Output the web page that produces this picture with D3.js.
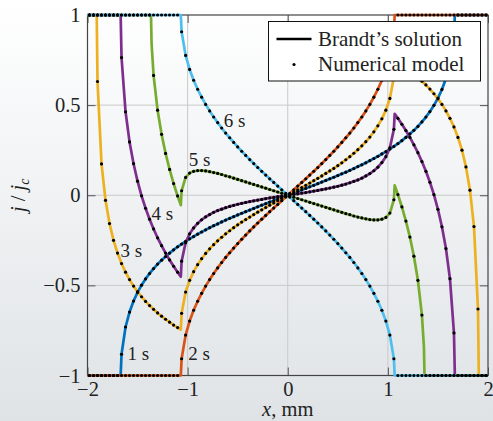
<!DOCTYPE html>
<html>
<head>
<meta charset="utf-8">
<script src="https://cdn.jsdelivr.net/npm/d3@7"></script>
<style>
  body { margin: 0; }
  svg { display: block; font-family: "Liberation Serif", serif; }
</style>
</head>
<body>
<svg width="493" height="421"></svg>
<script>
// mesh positions of the numerical model (mm)
const xs = [-1.98,-1.94,-1.90,-1.86,-1.82,-1.78,-1.74,-1.70,-1.66,-1.62,-1.58,-1.54,-1.50,-1.46,-1.42,-1.38,-1.34,-1.30,-1.26,-1.22,
  -1.18,-1.14,-1.10,-1.06,-1.02,-0.98,-0.94,-0.90,-0.86,-0.82,-0.78,-0.74,-0.70,-0.66,-0.62,-0.58,-0.54,-0.50,-0.46,-0.42,
  -0.38,-0.34,-0.30,-0.26,-0.22,-0.18,-0.14,-0.10,-0.06,-0.02,0.02,0.06,0.10,0.14,0.18,0.22,0.26,0.30,0.34,0.38,
  0.42,0.46,0.50,0.54,0.58,0.62,0.66,0.70,0.74,0.78,0.82,0.86,0.90,0.94,0.98,1.02,1.06,1.10,1.14,1.18,
  1.22,1.26,1.30,1.34,1.38,1.42,1.46,1.50,1.54,1.58,1.62,1.66,1.70,1.74,1.78,1.82,1.86,1.90,1.94,1.98];

// j/jc at each mesh position, one array per time
const j1 = [-1,-1,-1,-1,-1,-1,-1,-1,-0.882,-0.731,-0.648,-0.587,-0.539,-0.499,-0.464,-0.434,-0.407,-0.382,-0.360,-0.340,
  -0.321,-0.303,-0.286,-0.271,-0.256,-0.242,-0.229,-0.216,-0.204,-0.192,-0.180,-0.169,-0.159,-0.148,-0.138,-0.128,-0.119,-0.109,-0.100,-0.091,
  -0.082,-0.073,-0.064,-0.055,-0.047,-0.038,-0.030,-0.021,-0.013,-0.004,0.004,0.013,0.021,0.030,0.038,0.047,0.055,0.064,0.073,0.082,
  0.091,0.100,0.109,0.119,0.128,0.138,0.148,0.159,0.169,0.180,0.192,0.204,0.216,0.229,0.242,0.256,0.271,0.286,0.303,0.321,
  0.340,0.360,0.382,0.407,0.434,0.464,0.499,0.539,0.587,0.648,0.731,0.882,1,1,1,1,1,1,1,1];
const j2 = [-1,-1,-1,-1,-1,-1,-1,-1,-1,-1,-1,-1,-1,-1,-1,-1,-1,-1,-1,-1,
  -1,-1,-1,-0.907,-0.776,-0.698,-0.638,-0.588,-0.544,-0.504,-0.468,-0.434,-0.403,-0.373,-0.345,-0.319,-0.293,-0.268,-0.244,-0.221,
  -0.198,-0.176,-0.154,-0.133,-0.112,-0.091,-0.071,-0.051,-0.030,-0.010,0.010,0.030,0.051,0.071,0.091,0.112,0.133,0.154,0.176,0.198,
  0.221,0.244,0.268,0.293,0.319,0.345,0.373,0.403,0.434,0.468,0.504,0.544,0.588,0.638,0.698,0.776,0.907,1,1,1,
  1,1,1,1,1,1,1,1,1,1,1,1,1,1,1,1,1,1,1,1];
const j3 = [1,1,0.631,0.174,-0.028,-0.157,-0.250,-0.321,-0.379,-0.427,-0.468,-0.504,-0.535,-0.563,-0.589,-0.612,-0.633,-0.653,-0.671,-0.688,
  -0.704,-0.720,-0.734,-0.655,-0.537,-0.472,-0.424,-0.385,-0.352,-0.323,-0.297,-0.274,-0.253,-0.233,-0.214,-0.197,-0.180,-0.164,-0.149,-0.135,
  -0.121,-0.107,-0.094,-0.081,-0.068,-0.055,-0.043,-0.030,-0.018,-0.006,0.006,0.018,0.030,0.043,0.055,0.068,0.081,0.094,0.107,0.121,
  0.135,0.149,0.164,0.180,0.197,0.214,0.233,0.253,0.274,0.297,0.323,0.352,0.385,0.424,0.472,0.537,0.655,0.734,0.720,0.704,
  0.688,0.671,0.653,0.633,0.612,0.589,0.563,0.535,0.504,0.468,0.427,0.379,0.321,0.250,0.157,0.028,-0.174,-0.631,-1,-1];
const j4 = [1,1,1,1,1,1,1,1,0.764,0.463,0.296,0.175,0.078,-0.003,-0.072,-0.133,-0.187,-0.236,-0.280,-0.321,
  -0.359,-0.394,-0.427,-0.366,-0.263,-0.214,-0.181,-0.156,-0.136,-0.120,-0.107,-0.095,-0.085,-0.077,-0.069,-0.062,-0.056,-0.050,-0.045,-0.040,
  -0.035,-0.031,-0.027,-0.023,-0.019,-0.015,-0.012,-0.008,-0.005,-0.002,0.002,0.005,0.008,0.012,0.015,0.019,0.023,0.027,0.031,0.035,
  0.040,0.045,0.050,0.056,0.062,0.069,0.077,0.085,0.095,0.107,0.120,0.136,0.156,0.181,0.214,0.263,0.366,0.427,0.394,0.359,
  0.321,0.280,0.236,0.187,0.133,0.072,0.003,-0.078,-0.175,-0.296,-0.463,-0.764,-1,-1,-1,-1,-1,-1,-1,-1];
const j5 = [1,1,1,1,1,1,1,1,1,1,1,1,1,1,1,1,0.665,0.472,0.338,0.232,
  0.143,0.065,-0.004,0.025,0.099,0.123,0.133,0.137,0.137,0.135,0.131,0.126,0.121,0.115,0.108,0.102,0.095,0.088,0.081,0.074,
  0.067,0.060,0.053,0.046,0.039,0.032,0.025,0.018,0.011,0.004,-0.004,-0.011,-0.018,-0.025,-0.032,-0.039,-0.046,-0.053,-0.060,-0.067,
  -0.074,-0.081,-0.088,-0.095,-0.102,-0.108,-0.115,-0.121,-0.126,-0.131,-0.135,-0.137,-0.137,-0.133,-0.123,-0.099,-0.025,0.004,-0.065,-0.143,
  -0.232,-0.338,-0.472,-0.665,-1,-1,-1,-1,-1,-1,-1,-1,-1,-1,-1,-1,-1,-1,-1,-1];
const j6 = [1,1,1,1,1,1,1,1,1,1,1,1,1,1,1,1,1,1,1,1,
  1,1,1,0.907,0.776,0.698,0.638,0.588,0.544,0.504,0.468,0.434,0.403,0.373,0.345,0.319,0.293,0.268,0.244,0.221,
  0.198,0.176,0.154,0.133,0.112,0.091,0.071,0.051,0.030,0.010,-0.010,-0.030,-0.051,-0.071,-0.091,-0.112,-0.133,-0.154,-0.176,-0.198,
  -0.221,-0.244,-0.268,-0.293,-0.319,-0.345,-0.373,-0.403,-0.434,-0.468,-0.504,-0.544,-0.588,-0.638,-0.698,-0.776,-0.907,-1,-1,-1,
  -1,-1,-1,-1,-1,-1,-1,-1,-1,-1,-1,-1,-1,-1,-1,-1,-1,-1,-1,-1];

// extra points of Brandt's solution: strip edges, flux fronts, cusps
const e1 = [[-2,-1],[-1.669,-1],[1.669,1],[2,1]];
const e2 = [[-2,-1],[-1.068,-1],[1.068,1],[2,1]];
const e3 = [[-2,1],[-1.908,1],[-1.068,-0.745],[1.068,0.745],[1.908,-1],[2,-1]];
const e4 = [[-2,1],[-1.669,1],[-1.068,-0.452],[1.068,0.452],[1.669,-1],[2,-1]];
const e5 = [[-2,1],[-1.366,1],[-1.36,0.842],[-1.068,-0.055],[1.068,0.055],[1.36,-0.842],[1.366,-1],[2,-1]];
const e6 = [[-2,1],[-1.068,1],[1.068,-1],[2,-1]];

const times = ["1 s", "2 s", "3 s", "4 s", "5 s", "6 s"];
const colors = ["#0072bd", "#d95319", "#edb120", "#7e2f8e", "#77ac30", "#4dbeee"];
const xTicks = [-2, -1, 0, 1, 2];
const yTicks = [-1, -0.5, 0, 0.5, 1];

const series = [j1, j2, j3, j4, j5, j6].map((js, i) => ({
  name: times[i],
  color: colors[i],
  dots: xs.map((x, k) => [x, js[k]]),
  line: xs.map((x, k) => [x, js[k]]).concat([e1, e2, e3, e4, e5, e6][i]).sort((a, b) => a[0] - b[0])
}));

const svg = d3.select("svg");
const x = d3.scaleLinear().domain([-2, 2]).range([87.5, 488]);
const y = d3.scaleLinear().domain([-1, 1]).range([375.5, 15]);

// background
const grad = svg.append("defs").append("linearGradient")
  .attr("id", "bg").attr("x1", 0).attr("y1", 0).attr("x2", 0).attr("y2", 1);
grad.append("stop").attr("offset", 0).attr("stop-color", "#ffffff");
grad.append("stop").attr("offset", 1).attr("stop-color", "#dfe3e6");
svg.append("rect").attr("width", 493).attr("height", 421).attr("fill", "url(#bg)");

// grid
svg.append("g").selectAll("line")
  .data([-1, 0, 1])
  .enter().append("line")
  .attr("x1", d => x(d)).attr("x2", d => x(d))
  .attr("y1", y(-1)).attr("y2", y(1))
  .attr("stroke", "#c9c9c9").attr("stroke-width", 1);
svg.append("g").selectAll("line")
  .data([-0.5, 0, 0.5])
  .enter().append("line")
  .attr("x1", x(-2)).attr("x2", x(2))
  .attr("y1", d => y(d)).attr("y2", d => y(d))
  .attr("stroke", "#c9c9c9").attr("stroke-width", 1);

// axes, ticks pointing inward
const fmt = d3.format("");
const axes = [
  [d3.axisBottom(x).tickValues(xTicks).tickFormat(fmt).tickPadding(6), `translate(0,${y(-1)})`],
  [d3.axisTop(x).tickValues(xTicks).tickFormat(""), `translate(0,${y(1)})`],
  [d3.axisLeft(y).tickValues(yTicks).tickFormat(fmt).tickPadding(7), `translate(${x(-2)},0)`],
  [d3.axisRight(y).tickValues(yTicks).tickFormat(""), `translate(${x(2)},0)`]
];
axes.forEach(([ax, tr]) => {
  const g = svg.append("g").attr("transform", tr).call(ax.tickSizeInner(-8).tickSizeOuter(0));
  g.select(".domain").remove();
  g.selectAll(".tick line").attr("stroke", "#555");
  g.selectAll("text").attr("font-family", "Liberation Serif").attr("font-size", 20.5).attr("fill", "#222");
});

svg.append("rect")
  .attr("x", x(-2)).attr("y", y(1))
  .attr("width", x(2) - x(-2)).attr("height", y(-1) - y(1))
  .attr("fill", "none").attr("stroke", "#444").attr("stroke-width", 1.2);

// curves
const line = d3.line().x(d => x(d[0])).y(d => y(d[1]));
svg.append("g").selectAll("path")
  .data(series)
  .enter().append("path")
  .attr("d", d => line(d.line))
  .attr("fill", "none")
  .attr("stroke", d => d.color)
  .attr("stroke-width", 2.7)
  .attr("stroke-linejoin", "round");

svg.append("g").selectAll("g")
  .data(series)
  .enter().append("g")
  .selectAll("circle")
  .data(d => d.dots)
  .enter().append("circle")
  .attr("cx", d => x(d[0]))
  .attr("cy", d => y(d[1]))
  .attr("r", 1.6)
  .attr("fill", "#000");

// time labels
const labelPos = [[-1.6, -0.915], [-0.995, -0.915], [-1.67, -0.34], [-1.36, -0.135], [-0.99, 0.16], [-0.64, 0.38]];
svg.append("g").selectAll("text")
  .data(times)
  .enter().append("text")
  .attr("x", (d, i) => x(labelPos[i][0]))
  .attr("y", (d, i) => y(labelPos[i][1]))
  .attr("font-size", 19)
  .attr("fill", "#222")
  .text(d => d);

// axis labels
const xl = svg.append("text")
  .attr("x", x(0)).attr("y", 416)
  .attr("text-anchor", "middle").attr("font-size", 20.5).attr("fill", "#222");
xl.append("tspan").attr("font-style", "italic").text("x");
xl.append("tspan").text(", mm");

const yl = svg.append("text")
  .attr("transform", `translate(25,${y(0)}) rotate(-90)`)
  .attr("text-anchor", "middle").attr("font-size", 20.5).attr("fill", "#222");
yl.append("tspan").attr("font-style", "italic").text("j");
yl.append("tspan").text(" / ");
yl.append("tspan").attr("font-style", "italic").text("j");
yl.append("tspan").attr("font-style", "italic").attr("font-size", 14).attr("dy", 4).text("c");

// legend
const lg = svg.append("g");
lg.append("rect")
  .attr("x", 268.5).attr("y", 21.5).attr("width", 212).attr("height", 59.5)
  .attr("fill", "#fff").attr("stroke", "#111").attr("stroke-width", 1);
lg.append("line")
  .attr("x1", 276.5).attr("x2", 311.5).attr("y1", 39).attr("y2", 39)
  .attr("stroke", "#000").attr("stroke-width", 2.7);
lg.append("circle").attr("cx", 294).attr("cy", 64.5).attr("r", 1.6).attr("fill", "#000");
lg.append("text").attr("x", 318).attr("y", 45.5).attr("font-size", 21).attr("fill", "#222").text("Brandt’s solution");
lg.append("text").attr("x", 318).attr("y", 70.5).attr("font-size", 21).attr("fill", "#222").text("Numerical model");
</script>
</body>
</html>
